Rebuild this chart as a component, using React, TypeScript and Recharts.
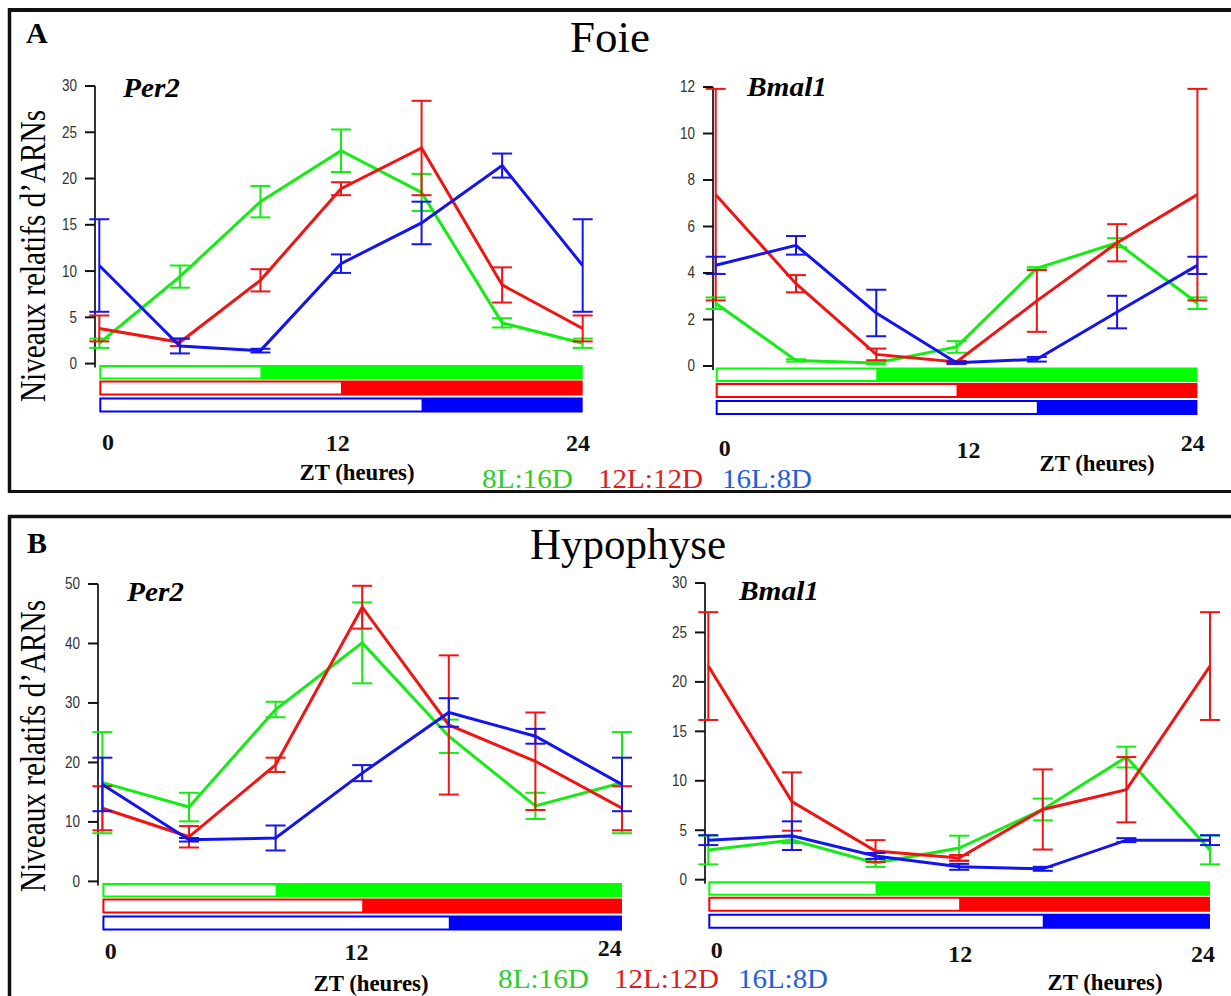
import React from "react";
import { LineChart, Line, XAxis, YAxis, ErrorBar, ReferenceArea, ReferenceLine } from "recharts";

// ─────────────────────────────────────────────
//  Per2 / Bmal1 expression, liver (Foie) and pituitary (Hypophyse)
//  three photoperiods, mean ± SEM, ZT 0..24 (ZT24 = ZT0 replotted)
// ─────────────────────────────────────────────

const ZT = [0, 4, 8, 12, 16, 20, 24];
const X_TICKS = [0, 12, 24];

// light hours of each photoperiod (8L:16D, 12L:12D, 16L:8D)
const LIGHT_HOURS = [8, 12, 16];
const PHOTOPERIOD_LABELS = ["8L:16D", "12L:12D", "16L:8D"];

// Foie – Per2
const foiePer2_8L = [2.2, 9.4, 17.5, 23.0, 18.5, 4.4, 2.2];
const foiePer2_8L_sem = [0.5, 1.2, 1.7, 2.3, 2.0, 0.5, 0.5];
const foiePer2_12L = [3.8, 2.3, 9.0, 18.9, 23.3, 8.5, 3.8];
const foiePer2_12L_sem = [1.4, 0.4, 1.2, 0.7, 5.1, 1.9, 1.4];
const foiePer2_16L = [10.6, 1.9, 1.4, 10.8, 15.2, 21.4, 10.6];
const foiePer2_16L_sem = [5.0, 0.8, 0.2, 1.0, 2.3, 1.3, 5.0];

// Foie – Bmal1
const foieBmal1_8L = [2.7, 0.24, 0.13, 0.82, 4.2, 5.3, 2.7];
const foieBmal1_8L_sem = [0.25, 0.05, 0.05, 0.25, 0.05, 0.2, 0.25];
const foieBmal1_12L = [7.37, 3.54, 0.5, 0.17, 2.8, 5.3, 7.37];
const foieBmal1_12L_sem = [4.55, 0.37, 0.25, 0.05, 1.33, 0.8, 4.55];
const foieBmal1_16L = [4.33, 5.19, 2.28, 0.14, 0.29, 2.32, 4.33];
const foieBmal1_16L_sem = [0.37, 0.4, 1.0, 0.05, 0.1, 0.7, 0.37];

// Hypophyse – Per2
const hypoPer2_8L = [16.6, 12.5, 28.9, 40.1, 24.4, 12.7, 16.6];
const hypoPer2_8L_sem = [8.5, 2.4, 1.3, 6.8, 2.8, 2.2, 8.5];
const hypoPer2_12L = [12.3, 7.5, 19.6, 46.1, 26.3, 20.2, 12.3];
const hypoPer2_12L_sem = [3.7, 1.8, 1.2, 3.6, 11.7, 8.2, 3.7];
const hypoPer2_16L = [16.3, 7.0, 7.3, 18.2, 28.4, 24.4, 16.3];
const hypoPer2_16L_sem = [4.5, 0.3, 2.1, 1.35, 2.4, 1.25, 4.5];

// Hypophyse – Bmal1
const hypoBmal1_8L = [3.0, 4.0, 1.7, 3.2, 7.1, 12.4, 3.0];
const hypoBmal1_8L_sem = [1.45, 0.3, 0.4, 1.25, 1.1, 1.05, 1.45];
const hypoBmal1_12L = [21.6, 7.9, 2.9, 2.2, 7.1, 9.1, 21.6];
const hypoBmal1_12L_sem = [5.45, 2.95, 1.1, 0.3, 4.05, 3.3, 5.45];
const hypoBmal1_16L = [4.0, 4.45, 2.4, 1.3, 1.1, 4.0, 4.0];
const hypoBmal1_16L_sem = [0.5, 1.45, 0.3, 0.3, 0.2, 0.2, 0.5];

const BAR_COLORS = ["#00ff00", "#ff0000", "#0000ff"];
const LINE_COLORS = ["#14ec14", "#f01414", "#1414f0"];
const LEGEND_COLORS = ["#2ecc2e", "#e01b1b", "#1f5fd9"];

const SERIF = "'Liberation Serif', 'Times New Roman', serif";
const SANS = "'Liberation Sans', Arial, sans-serif";

// light/dark bands under each plot: px offsets below y=0
const BANDS = [
  [1.5, 16],
  [17, 32],
  [34, 49],
];
const BAND_BOTTOM = 49;

function buildRows(s: number[][], e: number[][]) {
  return ZT.map((zt, i) => ({
    zt,
    s0: s[0][i], s1: s[1][i], s2: s[2][i],
    e0: e[0][i], e1: e[1][i], e2: e[2][i],
  }));
}

const CHARTS = [
  {
    id: "foiePer2",
    rows: buildRows(
      [foiePer2_8L, foiePer2_12L, foiePer2_16L],
      [foiePer2_8L_sem, foiePer2_12L_sem, foiePer2_16L_sem]
    ),
    yMax: 30, yTicks: [0, 5, 10, 15, 20, 25, 30],
    axisX: 95, zt0X: 99.3, zt24X: 582.7, topY: 85.7, zeroY: 363.3,
    tickDx: [8.7, -3.3, -4.7], tickY: [441.7, 443, 443],
  },
  {
    id: "foieBmal1",
    rows: buildRows(
      [foieBmal1_8L, foieBmal1_12L, foieBmal1_16L],
      [foieBmal1_8L_sem, foieBmal1_12L_sem, foieBmal1_16L_sem]
    ),
    yMax: 12, yTicks: [0, 2, 4, 6, 8, 10, 12],
    axisX: 713.3, zt0X: 716, zt24X: 1197.7, topY: 86.7, zeroY: 365.7,
    tickDx: [9, 12, -4.7], tickY: [448, 450, 443],
  },
  {
    id: "hypoPer2",
    rows: buildRows(
      [hypoPer2_8L, hypoPer2_12L, hypoPer2_16L],
      [hypoPer2_8L_sem, hypoPer2_12L_sem, hypoPer2_16L_sem]
    ),
    yMax: 50, yTicks: [0, 10, 20, 30, 40, 50],
    axisX: 98.3, zt0X: 102.7, zt24X: 622.3, topY: 584.3, zeroY: 881.7,
    tickDx: [8.3, -5.8, -12.3], tickY: [951.7, 952, 948],
  },
  {
    id: "hypoBmal1",
    rows: buildRows(
      [hypoBmal1_8L, hypoBmal1_12L, hypoBmal1_16L],
      [hypoBmal1_8L_sem, hypoBmal1_12L_sem, hypoBmal1_16L_sem]
    ),
    yMax: 30, yTicks: [0, 5, 10, 15, 20, 25, 30],
    axisX: 705, zt0X: 708.3, zt24X: 1210, topY: 583.3, zeroY: 880,
    tickDx: [8.4, 1, -7], tickY: [950, 954, 954],
  },
];

const Y_W = 50;
const M_TOP = 12;
const M_RIGHT = 12;
const X_H = 80;

function GeneChart({ cfg }: { cfg: (typeof CHARTS)[number] }) {
  const pxPerUnit = (cfg.zeroY - cfg.topY) / cfg.yMax;
  const pxPerHour = (cfg.zt24X - cfg.zt0X) / 24;
  const toY = (px: number) => -px / pxPerUnit;
  const toX = (px: number) => px / pxPerHour;
  const xMin = -toX(cfg.zt0X - cfg.axisX);
  const yMin = toY(BAND_BOTTOM + 1);
  const left = cfg.axisX - Y_W;
  const top = cfg.topY - M_TOP;
  const width = cfg.zt24X - left + M_RIGHT;
  const height = cfg.zeroY + BAND_BOTTOM + 1 - top + X_H;

  const xTick = (p: any) => {
    const i = X_TICKS.indexOf(p.payload.value);
    return (
      <text
        x={p.x + cfg.tickDx[i]}
        y={cfg.tickY[i] - top}
        textAnchor="middle"
        dominantBaseline="central"
        fontFamily={SERIF}
        fontWeight="bold"
        fontSize={24}
        fill="#111"
      >
        {p.payload.value}
      </text>
    );
  };

  const yTick = (p: any) => {
    const label = String(p.payload.value);
    return (
      <text
        x={p.x}
        y={p.y}
        textAnchor="end"
        dominantBaseline="central"
        fontFamily={SANS}
        fontSize={16}
        fill="#333"
        textLength={label.length * 7.5}
        lengthAdjust="spacingAndGlyphs"
      >
        {label}
      </text>
    );
  };

  return (
    <div style={{ position: "absolute", left, top, width, height }}>
      <LineChart
        width={width}
        height={height}
        data={cfg.rows}
        margin={{ top: M_TOP, right: M_RIGHT, left: 0, bottom: 0 }}
      >
        <XAxis
          type="number"
          dataKey="zt"
          domain={[xMin, 24]}
          ticks={X_TICKS}
          interval={0}
          allowDataOverflow
          axisLine={false}
          tickLine={false}
          height={X_H}
          tick={xTick}
        />
        <YAxis
          type="number"
          domain={[yMin, cfg.yMax]}
          ticks={cfg.yTicks}
          interval={0}
          allowDataOverflow
          width={Y_W}
          axisLine={false}
          tickLine={{ stroke: "#111", strokeWidth: 2 }}
          tickSize={10}
          tickMargin={8}
          tick={yTick}
        />

        {/* photoperiod bands: dark part filled, light part white */}
        {LIGHT_HOURS.map((h, i) => (
          <ReferenceArea
            key={`dark${i}`}
            x1={0}
            x2={24}
            y1={toY(BANDS[i][1])}
            y2={toY(BANDS[i][0])}
            fill={BAR_COLORS[i]}
            fillOpacity={1}
            stroke="none"
            ifOverflow="visible"
          />
        ))}
        {LIGHT_HOURS.map((h, i) => (
          <ReferenceArea
            key={`light${i}`}
            x1={toX(2)}
            x2={h}
            y1={toY(BANDS[i][1] - 2)}
            y2={toY(BANDS[i][0] + 2)}
            fill="#ffffff"
            fillOpacity={1}
            stroke="none"
            ifOverflow="visible"
          />
        ))}

        <ReferenceLine
          segment={[{ x: xMin, y: toY(4) }, { x: xMin, y: cfg.yMax }]}
          stroke="#333"
          strokeWidth={2}
          ifOverflow="visible"
        />

        {[0, 1, 2].map((i) => (
          <Line
            key={i}
            type="linear"
            dataKey={`s${i}`}
            stroke={LINE_COLORS[i]}
            strokeWidth={3}
            dot={false}
            activeDot={false}
            isAnimationActive={false}
          >
            <ErrorBar
              dataKey={`e${i}`}
              direction="y"
              width={10}
              stroke={LINE_COLORS[i]}
              strokeWidth={2}
              isAnimationActive={false}
            />
          </Line>
        ))}
      </LineChart>
    </div>
  );
}

function Legend({ x, baseline }: { x: number[]; baseline: number }) {
  const widths = [91, 105, 90];
  return (
    <>
      {PHOTOPERIOD_LABELS.map((t, i) => (
        <text
          key={t}
          x={x[i]}
          y={baseline}
          fontFamily={SERIF}
          fontSize={28}
          fill={LEGEND_COLORS[i]}
          textLength={widths[i]}
          lengthAdjust="spacingAndGlyphs"
        >
          {t}
        </text>
      ))}
    </>
  );
}

function Overlay() {
  const yLabel = "Niveaux relatifs d\u2019ARNs";
  return (
    <svg width={1231} height={996} style={{ position: "absolute", left: 0, top: 0 }}>
      {/* panel frames */}
      <line x1={8} y1={10} x2={1231} y2={10} stroke="#111" strokeWidth={4} />
      <line x1={9.5} y1={8} x2={9.5} y2={493} stroke="#111" strokeWidth={3.5} />
      <line x1={8} y1={491.5} x2={1231} y2={491.5} stroke="#111" strokeWidth={3} />
      <line x1={8} y1={516.5} x2={1231} y2={516.5} stroke="#111" strokeWidth={3.5} />
      <line x1={9.5} y1={515} x2={9.5} y2={996} stroke="#111" strokeWidth={3.5} />

      {/* panel letters and titles */}
      <text x={26} y={43} fontFamily={SERIF} fontWeight="bold" fontSize={30}>A</text>
      <text x={27} y={553} fontFamily={SERIF} fontWeight="bold" fontSize={30}>B</text>
      <text x={610} y={52} textAnchor="middle" fontFamily={SERIF} fontSize={45}>Foie</text>
      <text x={628} y={559} textAnchor="middle" fontFamily={SERIF} fontSize={44} textLength={196} lengthAdjust="spacingAndGlyphs">
        Hypophyse
      </text>

      {/* gene names */}
      <text x={123} y={97} fontFamily={SERIF} fontWeight="bold" fontStyle="italic" fontSize={27} textLength={57} lengthAdjust="spacingAndGlyphs">Per2</text>
      <text x={747} y={96} fontFamily={SERIF} fontWeight="bold" fontStyle="italic" fontSize={27} textLength={80} lengthAdjust="spacingAndGlyphs">Bmal1</text>
      <text x={127} y={601} fontFamily={SERIF} fontWeight="bold" fontStyle="italic" fontSize={27} textLength={57} lengthAdjust="spacingAndGlyphs">Per2</text>
      <text x={739} y={600} fontFamily={SERIF} fontWeight="bold" fontStyle="italic" fontSize={27} textLength={80} lengthAdjust="spacingAndGlyphs">Bmal1</text>

      {/* y axis titles */}
      <text transform="translate(45,256) rotate(-90)" textAnchor="middle" fontFamily={SERIF} fontSize={36} textLength={292} lengthAdjust="spacingAndGlyphs">
        {yLabel}
      </text>
      <text transform="translate(45,746) rotate(-90)" textAnchor="middle" fontFamily={SERIF} fontSize={36} textLength={292} lengthAdjust="spacingAndGlyphs">
        {yLabel}
      </text>

      {/* x axis titles */}
      {[
        [357, 472],
        [1097, 463],
        [371, 983],
        [1105, 982],
      ].map(([cx, cy], i) => (
        <text
          key={i}
          x={cx}
          y={cy}
          textAnchor="middle"
          dominantBaseline="central"
          fontFamily={SERIF}
          fontWeight="bold"
          fontSize={24}
          textLength={115}
          lengthAdjust="spacingAndGlyphs"
        >
          ZT (heures)
        </text>
      ))}

      <Legend x={[482, 598, 722]} baseline={487.5} />
      <Legend x={[498, 614, 738]} baseline={988} />
    </svg>
  );
}

export default function App() {
  return (
    <div
      style={{
        position: "absolute",
        left: 0,
        top: 0,
        width: 1231,
        height: 996,
        background: "#fff",
        overflow: "hidden",
      }}
    >
      <Overlay />
      {CHARTS.map((c) => (
        <GeneChart key={c.id} cfg={c} />
      ))}
    </div>
  );
}
